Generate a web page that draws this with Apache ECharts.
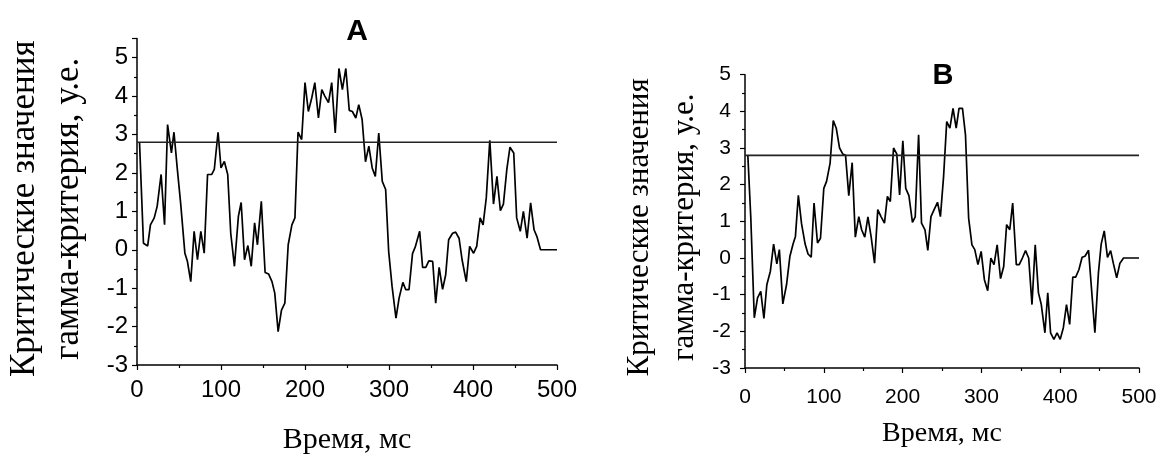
<!DOCTYPE html>
<html>
<head>
<meta charset="utf-8">
<script src="https://cdn.jsdelivr.net/npm/echarts@6/dist/echarts.min.js"></script>
<style>
html,body{margin:0;padding:0;background:#fff;}
#chart{width:1166px;height:457px;}
</style>
</head>
<body>
<div id="chart"></div>
<script>
// ---- Data ----
var timeA = [3,7.7,12.7,16,20.5,24,28.7,32.8,36.4,41,44,48,52,57,60,64,68,72,76,80,84,89,92,96.5,100,104,108,111.6,116,120.7,124,128,132,136,140,143.4,148,152.5,156.6,160.7,164,168,172,176,180,184.4,188,191.7,196,200,204,208,211.7,216,220,223.6,228,231.8,236,240.4,244.5,248.6,252.7,256.4,260.5,264,268,272,276,280,283.7,287.8,292,296,299.6,303.7,308.3,312,316.5,320,323.8,328,331.5,336.5,340,343.8,347.4,352,355.6,359.7,363.8,367.5,371,375.7,379.3,383.4,387,392,396,400.7,404.4,408.5,412,415.8,420,424.4,428.5,432.6,436.2,440.3,444,448.5,452,456.3,460,464.4,468.6,472.7,476,480.4,500];
var valuesA = [2.8,0.17,0.1,0.65,0.83,1.13,1.96,0.65,3.26,2.52,3.06,2.1,1.2,-0.09,-0.3,-0.83,0.48,-0.26,0.48,-0.09,1.96,1.96,2.09,3.06,2.13,2.3,1.96,0.43,-0.43,0.87,1.23,-0.26,0.11,-0.43,0.7,0.13,1.26,-0.59,-0.63,-0.83,-1.13,-2.13,-1.57,-1.39,0.13,0.65,0.83,3.06,2.87,4.35,3.6,3.95,4.35,3.43,4.17,4.0,3.83,4.35,3.04,4.72,4.17,4.72,3.63,3.6,3.43,3.78,3.39,2.29,2.7,2.13,1.91,3.04,1.78,1.57,-0.04,-0.96,-1.78,-1.26,-0.85,-1.04,-1.04,-0.1,0.09,0.48,-0.46,-0.46,-0.29,-0.3,-1.39,-0.46,-1.03,-0.65,0.26,0.43,0.46,0.3,-0.26,-0.83,0.09,-0.09,0.09,0.83,0.65,1.35,2.85,1.19,1.91,1.02,1.19,2.1,2.67,2.52,0.83,0.48,1.0,0.3,1.22,0.52,0.35,0,0];

var timeB = [3.6,7.3,11.8,15.9,20,24,27.7,32.2,36.3,40.4,43.6,48,52.7,57,61,64,67.7,71.8,76.3,80,84,87.6,92,95.8,100,103.5,108,112,115.8,120,124,127.6,131.7,136,140,144.4,148,152,156,160,164.4,168.5,172.6,177,180.7,184.4,188.5,192.6,196.2,200.3,204,208,212.5,216,220.3,224,228.4,232,236,240,244.3,248,252,256,260,264,268,271.6,276,279.8,283.8,288,291.6,295.6,299.7,303.8,308,312,316,320,324.3,328.3,332,336,339.7,344.3,348,352,356,360,364.2,368.3,372.4,376,380.6,384.2,387.8,392,396,400,404,408,412,416,419.6,423.7,427.8,431.4,436,444,448.5,452,455.9,460,464,467.6,471.7,475.8,480.4,500];
var valuesB = [2.8,1.13,-1.63,-1.09,-0.91,-1.65,-0.73,-0.36,0.38,-0.16,0.23,-1.25,-0.73,0.05,0.38,0.59,1.71,0.93,0.38,0.11,0.02,1.5,0.41,0.54,1.9,2.09,2.59,3.75,3.54,3.0,2.84,2.8,1.7,2.6,0.57,1.13,0.77,0.57,1.12,0.59,-0.14,1.32,1.13,0.95,1.68,1.54,3.0,2.84,1.72,3.2,1.9,1.7,0.97,1.12,3.36,0.95,0.77,0.21,1.13,1.32,1.52,1.13,2.22,3.72,3.54,4.08,3.54,4.08,4.08,3.36,1.09,0.36,0.23,-0.18,0.18,-0.59,-0.89,0,-0.18,0.36,-0.56,-0.23,0.91,0.77,1.5,-0.18,-0.18,0,0.2,0,-1.27,0.36,-0.95,-1.27,-2.04,-0.95,-2.04,-2.22,-2.04,-2.22,-1.9,-1.27,-1.81,-0.52,-0.52,-0.32,0.02,0.05,0.21,-2.04,-0.41,0.38,0.74,0.02,0.2,-0.16,-0.54,-0.14,0,0];

var threshold = 2.8;
var timeRange = [0, 500];
var panelTitles = ['A', 'B'];
var xAxisTitle = 'Время, мс';
var yAxisTitle = 'Критические значения\nгамма-критерия, у.е.';

function pairs(t, v) { return t.map(function (x, i) { return [x, v[i]]; }); }
function thresholdLine() { return timeRange.map(function (x) { return [x, threshold]; }); }

var serif = '"Liberation Serif","Times New Roman",serif';
var sans = '"Liberation Sans",Arial,sans-serif';

function xAxisCfg(gridIndex, labelSize, margin, nameGap, nameSize) {
  return {
    type: 'value', gridIndex: gridIndex, min: 0, max: 500, interval: 100,
    axisLine: { show: true, onZero: false, lineStyle: { color: '#000', width: 1.5 } },
    axisTick: { show: true, length: 5, lineStyle: { color: '#000', width: 1.2 } },
    minorTick: { show: true, splitNumber: 2, length: 3, lineStyle: { color: '#000', width: 1.2 } },
    splitLine: { show: false },
    axisLabel: { color: '#000', fontFamily: sans, fontSize: labelSize, margin: margin },
    name: xAxisTitle, nameLocation: 'middle', nameGap: nameGap,
    nameTextStyle: { color: '#000', fontFamily: serif, fontSize: nameSize }
  };
}
function yAxisCfg(gridIndex, max, labelSize, margin, nameGap, nameSize, lineH, pad) {
  return {
    type: 'value', gridIndex: gridIndex, min: -3, max: max, interval: 1,
    axisLine: { show: true, onZero: false, lineStyle: { color: '#000', width: 1.5 } },
    axisTick: { show: true, length: 5, lineStyle: { color: '#000', width: 1.2 } },
    minorTick: { show: true, splitNumber: 2, length: 3, lineStyle: { color: '#000', width: 1.2 } },
    splitLine: { show: false },
    axisLabel: { color: '#000', fontFamily: sans, fontSize: labelSize, margin: margin, showMaxLabel: max === 5 },
    name: yAxisTitle, nameLocation: 'middle', nameRotate: 90, nameGap: nameGap,
    nameTextStyle: { color: '#000', fontFamily: serif, fontSize: nameSize, lineHeight: lineH, padding: pad, align: 'center' }
  };
}

var chart = echarts.init(document.getElementById('chart'), null, { renderer: 'canvas' });
chart.setOption({
  animation: false,
  backgroundColor: '#fff',
  title: [
    { text: panelTitles[0], left: 352, top: 12, textAlign: 'center',
      textStyle: { fontFamily: sans, fontWeight: 'bold', fontSize: 30, color: '#000' } },
    { text: panelTitles[1], left: 938, top: 56, textAlign: 'center',
      textStyle: { fontFamily: sans, fontWeight: 'bold', fontSize: 29, color: '#000' } }
  ],
  grid: [
    { left: 137, top: 38.5, width: 420, height: 326.5, containLabel: false, outerBoundsMode: 'none' },
    { left: 745, top: 74.7, width: 394, height: 293.3, containLabel: false, outerBoundsMode: 'none' }
  ],
  xAxis: [
    xAxisCfg(0, 24, 13, 60, 30),
    xAxisCfg(1, 21, 19, 52, 28)
  ],
  yAxis: [
    yAxisCfg(0, 5.5, 24, 9, 46, 35, 44, [0, 14, 0, 0]),
    yAxisCfg(1, 5, 21, 14, 38, 31, 45, [0, 12, 0, 0])
  ],
  series: [
    { name: 'A', type: 'line', xAxisIndex: 0, yAxisIndex: 0, data: pairs(timeA, valuesA),
      showSymbol: false, lineStyle: { color: '#000', width: 1.7 }, silent: true },
    { name: 'A порог', type: 'line', xAxisIndex: 0, yAxisIndex: 0, data: thresholdLine(),
      showSymbol: false, lineStyle: { color: '#222', width: 1.6 }, silent: true },
    { name: 'B', type: 'line', xAxisIndex: 1, yAxisIndex: 1, data: pairs(timeB, valuesB),
      showSymbol: false, lineStyle: { color: '#000', width: 1.7 }, silent: true },
    { name: 'B порог', type: 'line', xAxisIndex: 1, yAxisIndex: 1, data: thresholdLine(),
      showSymbol: false, lineStyle: { color: '#222', width: 1.6 }, silent: true }
  ]
});
</script>
</body>
</html>
